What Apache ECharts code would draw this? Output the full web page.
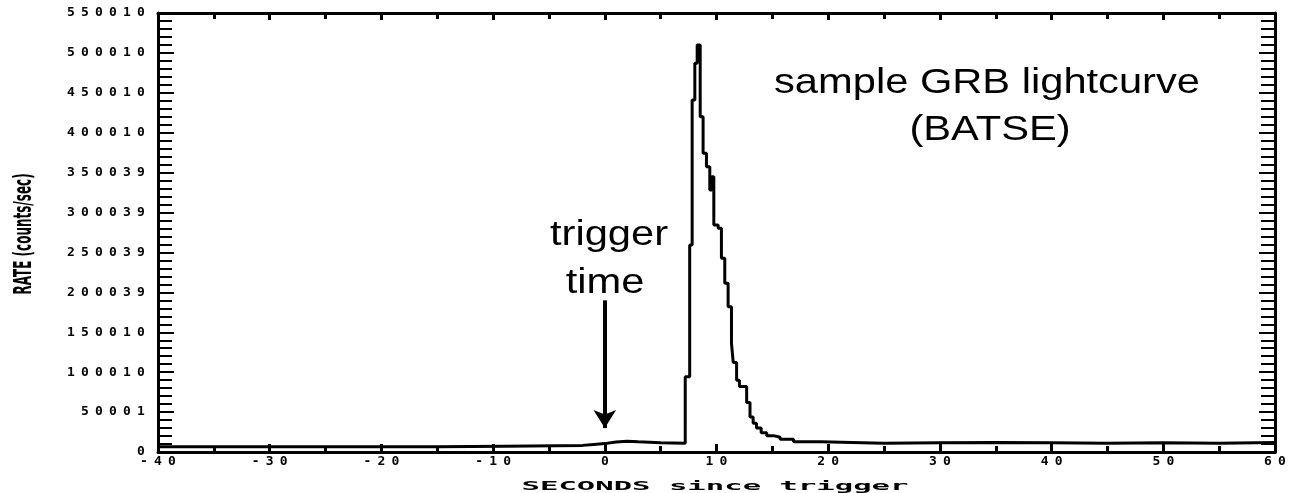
<!DOCTYPE html>
<html>
<head>
<meta charset="utf-8">
<script src="https://cdn.jsdelivr.net/npm/echarts@6/dist/echarts.min.js"></script>
<style>
html,body{margin:0;padding:0;background:#fff;}
#chart{width:1294px;height:493px;}
</style>
</head>
<body>
<div id="chart"></div>
<script>
// Time (s since trigger) of each bin start, and the rate in that bin
const times = [-40, -15, -9, -2, -1, 0, 1, 2, 3, 5,
  7.2, 7.6, 7.82, 8.06, 8.27, 8.54, 8.8, 9.1, 9.4, 9.58,
  9.76, 10.15, 10.44, 10.74, 11.04, 11.34, 11.5, 11.8, 12.05, 12.7,
  13.0, 13.28, 13.58, 14.0, 14.5, 15.1, 15.7, 16.9, 19.3, 25,
  30, 35, 40, 45, 50, 55, 60];
const rates = [6500, 7300, 8300, 9500, 10500, 12500, 13500, 12800, 11500, 11000,
  94400, 259400, 441000, 487000, 510000, 420000, 374300, 357500, 328300, 345000,
  284400, 280300, 242700, 211400, 182100, 136200, 112000, 90000, 82000, 62000,
  44000, 36000, 30000, 24000, 20500, 18500, 15900, 12900, 11000, 11500,
  12000, 11500, 11000, 11500, 11000, 11800, 11800];
// y tick labels as printed in the figure (0 .. 550000 step 50000)
const yTickLabels = ['0', '50001', '100010', '150010', '200039', '250039',
  '300039', '350039', '400010', '450010', '500010', '550010'];
const xTickValues = [-40, -30, -20, -10, 0, 10, 20, 30, 40, 50, 60];
// arrow marking trigger time: [time, rate top], [time, rate at arrow tip]
const arrowFrom = [0, 190000];
const arrowTo = [0, 30000];

const data = times.map((t, i) => [t, rates[i]]);
const chart = echarts.init(document.getElementById('chart'), null, {renderer: 'canvas'});
const black = '#000';
const pixRich = {c: {width: 14, align: 'center', color: black, fontFamily: 'DejaVu Sans Mono', fontWeight: 'bold', fontSize: 13}};
const spaced = s => String(s).split('').map(ch => '{c|' + ch + '}').join('');

const xCommon = {
  type: 'value', min: -40, max: 60, interval: 10,
  splitLine: {show: false},
  axisLine: {show: true, onZero: false, lineStyle: {color: black, width: 3}},
};
const yCommon = {
  type: 'value', min: 0, max: 550000, interval: 50000,
  splitLine: {show: false},
  axisLine: {show: true, onZero: false, lineStyle: {color: black, width: 3}},
};

chart.setOption({
  animation: false,
  backgroundColor: '#fff',
  grid: {left: 158, right: 19, top: 13, bottom: 41, containLabel: false, outerBoundsMode: 'none'},
  xAxis: [
    Object.assign({}, xCommon, {
      position: 'bottom',
      axisTick: {show: true, inside: true, length: 8, lineStyle: {color: black, width: 3}},
      minorTick: {show: true, splitNumber: 2, length: 6, lineStyle: {color: black, width: 3}},
      axisLabel: {margin: 3, rich: pixRich,
        formatter: v => xTickValues.indexOf(v) >= 0 ? spaced(v) : ''}
    }),
    Object.assign({}, xCommon, {
      position: 'top',
      axisTick: {show: true, inside: true, length: 7, lineStyle: {color: black, width: 3}},
      minorTick: {show: true, splitNumber: 2, length: 6, lineStyle: {color: black, width: 3}},
      axisLabel: {show: false}
    })
  ],
  yAxis: [
    Object.assign({}, yCommon, {
      position: 'left',
      axisTick: {show: true, inside: true, length: 16, lineStyle: {color: black, width: 2}},
      minorTick: {show: true, splitNumber: 5, length: 14, lineStyle: {color: black, width: 2}},
      axisLabel: {margin: 10, rich: pixRich,
        formatter: v => spaced(yTickLabels[Math.round(v / 50000)])}
    }),
    Object.assign({}, yCommon, {
      position: 'right',
      axisTick: {show: true, inside: true, length: 16, lineStyle: {color: black, width: 2}},
      minorTick: {show: true, splitNumber: 5, length: 14, lineStyle: {color: black, width: 2}},
      axisLabel: {show: false}
    })
  ],
  series: [{
    type: 'line',
    step: 'end',
    data: data,
    symbol: 'none',
    lineStyle: {color: black, width: 3},
    emphasis: {disabled: true},
    markLine: {
      silent: true,
      symbol: ['none', 'arrow'],
      symbolSize: [17, 18],
      label: {show: false},
      lineStyle: {color: black, width: 4, type: 'solid'},
      data: [[{coord: arrowFrom}, {coord: arrowTo}]]
    }
  }],
  graphic: [
    {type: 'text', x: 987, y: 83, scaleX: 1.19, style: {text: 'sample GRB lightcurve', fontFamily: 'Liberation Sans', fontSize: 35, fill: black, align: 'center', verticalAlign: 'middle'}},
    {type: 'text', x: 990, y: 130, scaleX: 1.19, style: {text: '(BATSE)', fontFamily: 'Liberation Sans', fontSize: 35, fill: black, align: 'center', verticalAlign: 'middle'}},
    {type: 'text', x: 609, y: 235, scaleX: 1.19, style: {text: 'trigger', fontFamily: 'Liberation Sans', fontSize: 35, fill: black, align: 'center', verticalAlign: 'middle'}},
    {type: 'text', x: 605, y: 283, scaleX: 1.19, style: {text: 'time', fontFamily: 'Liberation Sans', fontSize: 35, fill: black, align: 'center', verticalAlign: 'middle'}},
    {type: 'text', x: 715, y: 487, scaleX: 2.55, style: {text: 'SECONDS since trigger', fontFamily: 'DejaVu Sans Mono', fontWeight: 'bold', fontSize: 12, fill: black, align: 'center', verticalAlign: 'middle'}},
    {type: 'text', x: 25, y: 234, rotation: Math.PI / 2, scaleX: 0.5, style: {text: 'RATE (counts/sec)', fontFamily: 'DejaVu Sans', fontWeight: 'bold', fontSize: 24, fill: black, align: 'center', verticalAlign: 'middle'}}
  ]
});
</script>
</body>
</html>
